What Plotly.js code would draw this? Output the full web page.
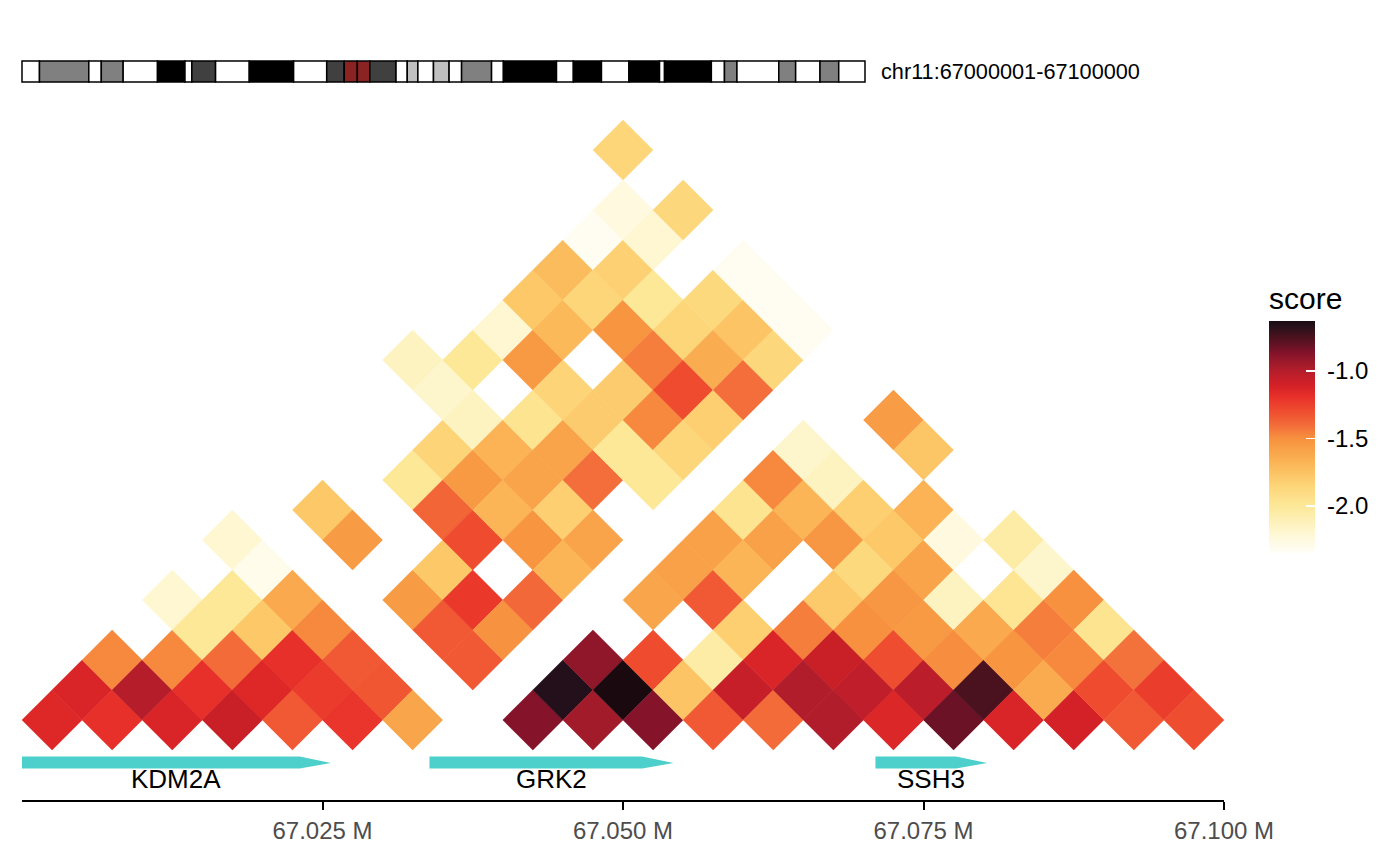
<!DOCTYPE html>
<html>
<head>
<meta charset="utf-8">
<script src="https://cdn.plot.ly/plotly-3.0.1.min.js"></script>
<style>
html,body{margin:0;padding:0;background:#ffffff;}
#chart{width:1400px;height:865px;}
</style>
</head>
<body>
<div id="chart"></div>
<script>
// ---------------- data ----------------
// region and bins (5 kb bins over chr11:67,000,001-67,100,000)
const regionStartMb = 67.000;
const regionEndMb = 67.100;
const binSizeMb = 0.005;

// contact scores per bin i, listed for j = i .. 19 (null = no value)
const bin00 = [-1.15, -1.13, -1.48, null, -2.20, null, -2.20, null, null, null, null, null, -2.14, null, null, null, null, null, null, -1.86];
const bin01 = [-1.19, -1.00, -1.48, -2.00, -2.00, -2.30, null, -1.78, null, null, null, -2.18, -2.00, -2.20, -1.78, -1.72, -2.32, -2.25, null];
const bin02 = [-1.13, -1.19, -1.40, -1.78, -1.62, null, -1.55, null, -2.00, -1.85, -2.14, null, -1.54, -1.70, -1.86, -1.83, -2.20, -1.87];
const bin03 = [-1.07, -1.15, -1.19, -1.48, null, null, null, -1.38, -1.54, -1.67, -1.97, -1.85, null, -1.52, -2.00, null, null];
const bin04 = [-1.34, -1.23, -1.34, null, -1.55, -1.78, -1.29, -1.68, -1.59, -1.59, -1.80, -1.80, -1.45, -1.86, -1.88, -2.32];
const bin05 = [-1.21, -1.33, null, -1.34, -1.22, null, -1.52, -1.82, -1.41, -2.00, -1.48, -1.29, -1.64, -1.76, -2.32];
const bin06 = [-1.60, null, -1.34, -1.51, -1.39, -1.68, -1.59, null, -2.00, -1.86, -1.82, -1.41, -1.87, -2.32];
const bin07 = [null, null, null, null, null, null, null, null, null, null, null, null, null];
const bin08 = [-0.87, -0.66, -0.90, null, -1.60, -1.58, -1.58, -1.97, -1.48, -2.18, null, null];
const bin09 = [-0.95, -0.63, -1.29, null, -1.34, -1.68, -1.58, -1.68, -2.14, null, -1.56];
const bin10 = [-0.87, -1.76, -2.05, -1.82, null, null, -1.53, -1.82, null, -1.77];
const bin11 = [-1.34, -1.06, -1.13, -1.45, -1.79, -1.88, -1.78, -1.67, null];
const bin12 = [-1.40, -0.99, -1.07, -1.50, -1.53, -1.59, -2.25, null];
const bin13 = [-0.99, -1.04, -1.30, -1.54, -2.14, null, -2.05];
const bin14 = [-1.14, -1.02, -1.49, -1.62, -1.98, -2.18];
const bin15 = [-0.82, -0.75, -1.52, -1.45, -1.50];
const bin16 = [-1.13, -1.63, -1.48, -1.97];
const bin17 = [-1.11, -1.29, -1.42];
const bin18 = [-1.34, -1.24];
const bin19 = [-1.30];
const scoreRows = [bin00, bin01, bin02, bin03, bin04, bin05, bin06, bin07, bin08, bin09,
                   bin10, bin11, bin12, bin13, bin14, bin15, bin16, bin17, bin18, bin19];

// colour scale
const scoreMin = -2.35;
const scoreMax = -0.63;
const scaleStops  = [0.0, 0.064, 0.122, 0.203, 0.285, 0.343, 0.413, 0.494, 0.547, 0.605, 0.674, 0.721, 0.785, 0.820, 0.860, 0.890, 0.930, 0.983, 1.0];
const scaleColors = ['#FFFEF8', '#FEF9DD', '#FDF3C0', '#FDE898', '#FDD67A', '#FCC464', '#FAAD50', '#F7913F', '#F36E3A', '#EF5030', '#E8302A', '#D42127', '#B51D2B', '#9E1A2A', '#85132A', '#6B1226', '#4A121E', '#23101A', '#1A0A10'];
const scoreTicks = [-2.0, -1.5, -1.0];

// genes
const geneNames   = ['KDM2A', 'GRK2', 'SSH3'];
const geneStartMb = [67.0000, 67.0339, 67.0710];
const geneEndMb   = [67.0257, 67.0542, 67.0803];

// axis ticks
const axisTicksMb = [67.025, 67.050, 67.075, 67.100];

// chr11 ideogram (hg19 cytobands)
const chromName = 'chr11';
const chromLengthMb = 135.006516;
const bandStartMb = [0, 2.8, 10.7, 12.7, 16.2, 21.7, 26.1, 27.2, 31.0, 36.4, 43.5, 48.8, 51.6, 53.7, 55.7, 59.9, 61.7, 63.4, 65.9, 68.4, 70.4, 75.2, 77.1, 85.6, 88.3, 92.8, 97.2, 102.1, 102.9, 110.4, 112.5, 114.5, 121.2, 123.9, 127.8, 130.8];
const bandStain = ['gneg','gpos50','gneg','gpos50','gneg','gpos100','gneg','gpos75','gneg','gpos100','gneg','gpos75','acen','acen','gpos75','gneg','gpos25','gneg','gpos25','gneg','gpos50','gneg','gpos100','gneg','gpos100','gneg','gpos100','gneg','gpos100','gneg','gpos50','gneg','gpos50','gneg','gpos50','gneg'];
const stainColor = {gneg:'#FFFFFF', gpos25:'#C0C0C0', gpos50:'#808080', gpos75:'#404040', gpos100:'#000000', acen:'#8B2323'};

// ---------------- layout geometry (pixels) ----------------
const W = 1400, H = 865;
const plotLeft = 22, plotRight = 1224;
const rowPx = 30;
const d0Px = 720;
const py = p => 1 - p / H;
const px = p => p / W;

// ---------------- heatmap (diamonds) ----------------
const hx = [], hy = [], hc = [];
scoreRows.forEach((row, i) => {
  row.forEach((v, o) => {
    if (v === null) return;
    const j = i + o;
    hx.push(regionStartMb + binSizeMb * (i + j + 1) / 2);
    hy.push(j - i);
    hc.push(v);
  });
});
const pxPerMb = (plotRight - plotLeft) / (regionEndMb - regionStartMb);
const halfDiag = pxPerMb * binSizeMb / 2;
const diamondSize = halfDiag / 0.65 + 0.35;

const colorscale = scaleStops.map((s, k) => [s, scaleColors[k]]);

const heat = {
  type: 'scatter', mode: 'markers', x: hx, y: hy,
  xaxis: 'x', yaxis: 'y', cliponaxis: false, hoverinfo: 'skip',
  marker: {
    symbol: 'diamond', size: diamondSize, color: hc,
    colorscale: colorscale, cmin: scoreMin, cmax: scoreMax,
    line: {width: 0},
    showscale: true,
    colorbar: {
      title: {text: 'score', side: 'top', font: {size: 30, color: '#000000'}},
      thicknessmode: 'pixels', thickness: 46,
      lenmode: 'pixels', len: 270,
      x: px(1269), xanchor: 'left', xpad: 0,
      y: py(418), yanchor: 'middle', ypad: 0,
      tickvals: scoreTicks, ticktext: scoreTicks.map(v => '\u00A0' + v.toFixed(1)),
      ticks: 'inside', ticklen: 9, tickwidth: 1.5, tickcolor: '#ffffff',
      tickfont: {size: 24, color: '#000000'},
      outlinewidth: 0
    }
  }
};

// ---------------- gene arrows ----------------
const headMb = 0.0026;
const geneTraces = geneNames.map((g, k) => {
  const s = geneStartMb[k], e = geneEndMb[k];
  const b = Math.max(s, e - headMb);
  return {
    type: 'scatter', mode: 'lines', xaxis: 'x', yaxis: 'y2',
    x: [s, b, e, b, s, s], y: [0.29, 0.29, 0.5, 0.75, 0.75, 0.29],
    fill: 'toself', fillcolor: '#4DD0CC', line: {width: 0, color: '#4DD0CC'},
    hoverinfo: 'skip', cliponaxis: false
  };
});

// ---------------- ideogram ----------------
const bandEndMb = bandStartMb.map((s, k) => k < bandStartMb.length - 1 ? bandStartMb[k + 1] : chromLengthMb);
const ideo = {
  type: 'bar', orientation: 'h', xaxis: 'x3', yaxis: 'y3',
  y: bandStartMb.map(() => 0), base: bandStartMb,
  x: bandStartMb.map((s, k) => bandEndMb[k] - s),
  width: 1,
  marker: {color: bandStain.map(s => stainColor[s]), line: {color: '#000000', width: 1.5}},
  hoverinfo: 'skip'
};
const ideoPxPerMb = (865 - 22) / chromLengthMb;
const ideoPad = 3 / ideoPxPerMb;

// ---------------- annotations ----------------
const annotations = geneNames.map((g, k) => ({
  text: g, xref: 'x', yref: 'paper',
  x: (Math.max(geneStartMb[k], regionStartMb) + geneEndMb[k]) / 2, y: py(779),
  xanchor: 'center', yanchor: 'middle', showarrow: false,
  font: {size: 26, color: '#000000'}
}));
annotations.push({
  text: chromName + ':' + Math.round(regionStartMb * 1e6 + 1) + '-' + Math.round(regionEndMb * 1e6),
  xref: 'paper', yref: 'paper', x: px(879), y: py(72),
  xanchor: 'left', yanchor: 'middle', showarrow: false,
  font: {size: 21.7, color: '#000000'}
});

const layout = {
  width: W, height: H,
  margin: {l: 0, r: 0, t: 0, b: 0},
  paper_bgcolor: '#ffffff', plot_bgcolor: 'rgba(0,0,0,0)',
  font: {family: '"Liberation Sans", Arial, Helvetica, sans-serif', color: '#000000'},
  showlegend: false,
  xaxis: {
    domain: [px(plotLeft), px(plotRight)], range: [regionStartMb, regionEndMb],
    anchor: 'free', position: py(801),
    showline: true, linecolor: '#000000', linewidth: 2.2,
    ticks: 'outside', ticklen: 8, tickwidth: 2, tickcolor: '#000000',
    tickvals: axisTicksMb, ticktext: axisTicksMb.map(v => v.toFixed(3) + ' M'),
    tickfont: {size: 24, color: '#4D4D4D'},
    showgrid: false, zeroline: false, fixedrange: true
  },
  yaxis: {
    domain: [py(d0Px + rowPx), py(d0Px - 20 * rowPx)], range: [-1, 20],
    visible: false, showgrid: false, zeroline: false, anchor: 'free', position: 0
  },
  yaxis2: {
    domain: [py(776), py(750)], range: [0, 1],
    visible: false, showgrid: false, zeroline: false, anchor: 'free', position: 0
  },
  xaxis3: {
    domain: [px(22 - 3), px(865 + 3)], range: [-ideoPad, chromLengthMb + ideoPad],
    visible: false, showgrid: false, zeroline: false, anchor: 'y3'
  },
  yaxis3: {
    domain: [py(84.1), py(58.9)], range: [-0.6, 0.6],
    visible: false, showgrid: false, zeroline: false, anchor: 'x3'
  },
  annotations: annotations
};

Plotly.newPlot('chart', [heat, ...geneTraces, ideo], layout, {staticPlot: true, displayModeBar: false});
</script>
</body>
</html>
